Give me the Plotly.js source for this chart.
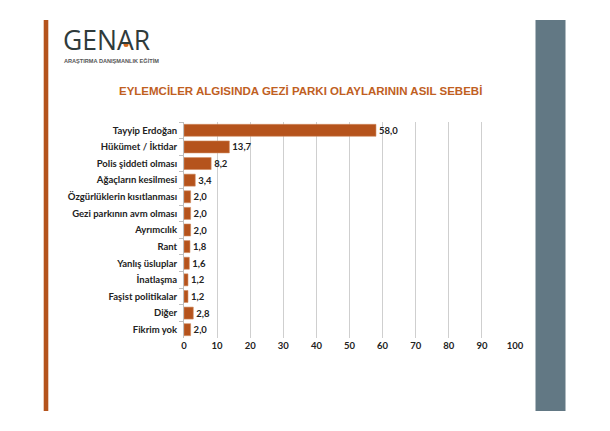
<!DOCTYPE html>
<html>
<head>
<meta charset="utf-8">
<script src="https://cdn.plot.ly/plotly-3.0.1.min.js"></script>
<style>
html,body{margin:0;padding:0;background:#fff;}
#chart{width:610px;height:431px;}
</style>
</head>
<body>
<div id="chart"></div>
<script>
var categories = ["Tayyip Erdoğan","Hükümet / İktidar","Polis şiddeti olması","Ağaçların kesilmesi","Özgürlüklerin kısıtlanması","Gezi parkının avm olması","Ayrımcılık","Rant","Yanlış üsluplar","İnatlaşma","Faşist politikalar","Diğer","Fikrim yok"];
var values = [58.0,13.7,8.2,3.4,2.0,2.0,2.0,1.8,1.6,1.2,1.2,2.8,2.0];
var xTicks = [0,10,20,30,40,50,60,70,80,90,100];
var chartTitle = "EYLEMCİLER ALGISINDA GEZİ PARKI OLAYLARININ ASIL SEBEBİ";

var W = 610, H = 431, L = 184, R = 95, T = 122, B = 93;
var pw = W - L - R, ph = H - T - B;
function px(x){ return (x - L) / pw; }
function py(y){ return 1 - (y - T) / ph; }

var trace = {
  type: 'bar',
  orientation: 'h',
  x: values,
  y: categories,
  marker: {color: '#B5531C', line: {color: '#D08A5E', width: 0.6}},
  width: 0.72,
  texttemplate: '%{x:.1f}',
  textposition: 'outside',
  cliponaxis: false,
  textfont: {family: 'Lato, "Open Sans", sans-serif', size: 9.5, color: '#222', weight: 'bold'},
  hoverinfo: 'none'
};

var layout = {
  width: W, height: H,
  margin: {l: L, r: R, t: T, b: B, pad: 0},
  paper_bgcolor: '#fff', plot_bgcolor: '#fff',
  separators: ',.',
  showlegend: false,
  xaxis: {
    range: [0, 100], tickvals: xTicks, ticktext: xTicks.map(String),
    showgrid: true, gridcolor: '#cfcfcf', gridwidth: 1,
    zeroline: false, showline: false, ticks: '',
    tickfont: {family: 'Lato, "Open Sans", sans-serif', size: 9.5, color: '#222', weight: 'bold'},
    fixedrange: true
  },
  yaxis: {
    autorange: 'reversed', type: 'category',
    showline: true, linecolor: '#bfbfbf', linewidth: 1,
    ticks: 'outside', tickson: 'boundaries', ticklen: 4, tickcolor: '#bfbfbf',
    showgrid: false,
    tickfont: {family: 'Lato, "Open Sans", sans-serif', size: 9.5, color: '#222', weight: 'bold'},
    ticklabelstandoff: 4,
    fixedrange: true
  },
  shapes: [
    {type: 'rect', xref: 'paper', yref: 'paper', x0: px(43.7), x1: px(48.3), y0: py(411), y1: py(20), fillcolor: '#B5531C', line: {width: 0}, layer: 'above'},
    {type: 'rect', xref: 'paper', yref: 'paper', x0: px(535.5), x1: px(565.5), y0: py(411), y1: py(20), fillcolor: '#627884', line: {width: 0}, layer: 'above'},
    {type: 'circle', xref: 'paper', yref: 'paper', x0: px(123.5), x1: px(128.5), y0: py(47), y1: py(42), fillcolor: '#D2691E', line: {width: 0}, layer: 'above'}
  ],
  annotations: [
    {xref: 'paper', yref: 'paper', x: px(300), y: py(91), text: '<b>' + chartTitle + '</b>', showarrow: false, xanchor: 'center', yanchor: 'middle',
     font: {family: '"Liberation Sans", Arial, sans-serif', size: 11.5, color: '#C0601F'}},
    {xref: 'paper', yref: 'paper', x: px(61), y: py(40), text: 'GENAR', showarrow: false, xanchor: 'left', yanchor: 'middle',
     font: {family: '"Open Sans", "DejaVu Sans", sans-serif', size: 26.5, color: '#2f3b3b'}},
    {xref: 'paper', yref: 'paper', x: px(62), y: py(60), text: '<b>ARAŞTIRMA DANIŞMANLIK EĞİTİM</b>', showarrow: false, xanchor: 'left', yanchor: 'middle',
     font: {family: '"Liberation Sans", Arial, sans-serif', size: 5.6, color: '#555'}}
  ]
};

Plotly.newPlot('chart', [trace], layout, {displayModeBar: false, staticPlot: true});
</script>
</body>
</html>
